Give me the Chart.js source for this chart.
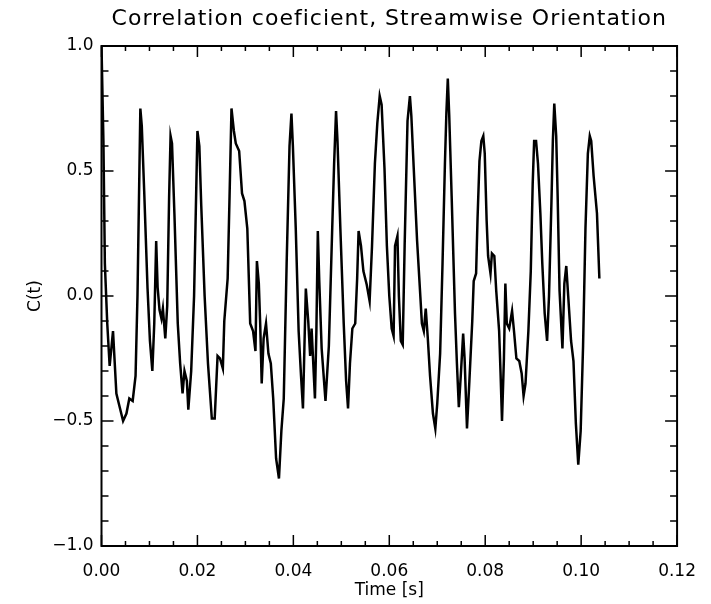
<!DOCTYPE html>
<html>
<head>
<meta charset="utf-8">
<script src="https://cdn.jsdelivr.net/npm/chart.js@4/dist/chart.umd.min.js"></script>
<style>
  html, body { margin: 0; padding: 0; background: #fff; }
  #wrap { width: 711px; height: 604px; }
</style>
</head>
<body>
<div id="wrap"><canvas id="corrChart" width="711" height="604"></canvas></div>
<script>
// Dados
const chartTitle = 'Correlation coeficient, Streamwise Orientation';
const xLabel = 'Time [s]';
const yLabel = 'C(t)';

const timeValues = [
    0.0000, 0.0004, 0.0007, 0.0012, 0.0017, 0.0024, 0.0031, 0.0038, 0.0045, 0.0052,
    0.0058, 0.0065, 0.0071, 0.0075, 0.0081, 0.0084, 0.0089, 0.0096, 0.0101, 0.0106,
    0.0110, 0.0114, 0.0117, 0.0121, 0.0125, 0.0128, 0.0133, 0.0137, 0.0141, 0.0144,
    0.0147, 0.0152, 0.0159, 0.0164, 0.0169, 0.0173, 0.0178, 0.0181, 0.0187, 0.0193,
    0.0200, 0.0204, 0.0208, 0.0215, 0.0222, 0.0230, 0.0236, 0.0242, 0.0247, 0.0253,
    0.0256, 0.0263, 0.0267, 0.0271, 0.0276, 0.0280, 0.0287, 0.0293, 0.0298, 0.0304,
    0.0310, 0.0316, 0.0321, 0.0324, 0.0328, 0.0331, 0.0334, 0.0338, 0.0343, 0.0348,
    0.0353, 0.0358, 0.0364, 0.0370, 0.0375, 0.0380, 0.0386, 0.0392, 0.0396, 0.0399,
    0.0405, 0.0411, 0.0416, 0.0420, 0.0423, 0.0426, 0.0431, 0.0435, 0.0438, 0.0441,
    0.0445, 0.0448, 0.0451, 0.0454, 0.0459, 0.0467, 0.0474, 0.0481, 0.0485, 0.0489,
    0.0492, 0.0498, 0.0505, 0.0510, 0.0514, 0.0518, 0.0523, 0.0529, 0.0533, 0.0536,
    0.0541, 0.0546, 0.0553, 0.0559, 0.0564, 0.0570, 0.0575, 0.0580, 0.0584, 0.0590,
    0.0595, 0.0600, 0.0605, 0.0609, 0.0612, 0.0617, 0.0620, 0.0624, 0.0628, 0.0632,
    0.0638, 0.0643, 0.0646, 0.0651, 0.0658, 0.0665, 0.0668, 0.0672, 0.0676, 0.0680,
    0.0685, 0.0691, 0.0696, 0.0700, 0.0706, 0.0711, 0.0716, 0.0719, 0.0722, 0.0725,
    0.0730, 0.0737, 0.0741, 0.0745, 0.0749, 0.0754, 0.0757, 0.0762, 0.0767, 0.0773,
    0.0776, 0.0781, 0.0784, 0.0788, 0.0792, 0.0796, 0.0799, 0.0803, 0.0806, 0.0811,
    0.0814, 0.0819, 0.0823, 0.0829, 0.0832, 0.0835, 0.0839, 0.0842, 0.0845, 0.0850,
    0.0856, 0.0860, 0.0865, 0.0871, 0.0876, 0.0880, 0.0884, 0.0890, 0.0895, 0.0899,
    0.0902, 0.0906, 0.0910, 0.0915, 0.0919, 0.0924, 0.0929, 0.0933, 0.0938, 0.0941,
    0.0944, 0.0948, 0.0951, 0.0955, 0.0961, 0.0965, 0.0969, 0.0973, 0.0979, 0.0984,
    0.0989, 0.0994, 0.0999, 0.1004, 0.1009, 0.1014, 0.1018, 0.1021, 0.1026, 0.1033,
    0.1038
];

const corrValues = [
    1.00, 0.62, 0.13, -0.11, -0.28, -0.14, -0.39, -0.445, -0.50, -0.47,
    -0.41, -0.42, -0.32, 0.00, 0.75, 0.68, 0.42, 0.03, -0.18, -0.30,
    -0.11, 0.22, 0.035, -0.056, -0.09, -0.05, -0.17, -0.04, 0.40, 0.64,
    0.61, 0.33, -0.11, -0.27, -0.39, -0.30, -0.34, -0.455, -0.30, 0.00,
    0.66, 0.60, 0.36, 0.00, -0.27, -0.49, -0.49, -0.24, -0.25, -0.29,
    -0.10, 0.07, 0.40, 0.75, 0.66, 0.61, 0.58, 0.41, 0.38, 0.27,
    -0.11, -0.14, -0.22, 0.14, 0.05, -0.12, -0.35, -0.17, -0.11, -0.23,
    -0.27, -0.41, -0.65, -0.73, -0.54, -0.41, 0.13, 0.60, 0.73, 0.60,
    0.27, -0.14, -0.32, -0.45, -0.21, 0.03, -0.10, -0.24, -0.13, -0.25,
    -0.41, -0.14, 0.26, 0.06, -0.21, -0.42, -0.20, 0.27, 0.53, 0.74,
    0.62, 0.27, -0.11, -0.34, -0.45, -0.27, -0.13, -0.11, 0.07, 0.26,
    0.20, 0.10, 0.045, -0.02, 0.20, 0.53, 0.69, 0.80, 0.765, 0.51,
    0.20, 0.00, -0.13, -0.16, 0.20, 0.24, 0.00, -0.18, -0.195, 0.20,
    0.70, 0.80, 0.72, 0.51, 0.22, -0.01, -0.11, -0.14, -0.05, -0.16,
    -0.32, -0.47, -0.53, -0.43, -0.23, 0.13, 0.53, 0.73, 0.87, 0.72,
    0.40, -0.07, -0.27, -0.445, -0.32, -0.15, -0.25, -0.53, -0.34, -0.10,
    0.06, 0.09, 0.31, 0.54, 0.62, 0.64, 0.57, 0.30, 0.16, 0.09,
    0.17, 0.16, 0.02, -0.14, -0.31, -0.50, -0.25, 0.05, -0.11, -0.13,
    -0.06, -0.14, -0.25, -0.26, -0.31, -0.40, -0.35, -0.14, 0.10, 0.45,
    0.62, 0.62, 0.53, 0.33, 0.13, -0.07, -0.18, 0.00, 0.37, 0.62,
    0.77, 0.64, 0.40, 0.02, -0.21, 0.05, 0.12, 0.00, -0.18, -0.26,
    -0.51, -0.675, -0.54, -0.20, 0.27, 0.57, 0.64, 0.62, 0.48, 0.33,
    0.07
];

const xTickValues = [0, 0.02, 0.04, 0.06, 0.08, 0.10, 0.12];
const yTickValues = [-1.0, -0.5, 0.0, 0.5, 1.0];

document.addEventListener("DOMContentLoaded", function () {
    const fontFamily = '"DejaVu Sans", "Liberation Sans", sans-serif';

    // Moldura com marcas internas nos quatro lados, e o título
    const frameTicks = {
        id: 'frameTicks',
        afterDatasetsDraw(chart) {
            const { ctx, chartArea: a, scales: { x, y } } = chart;
            ctx.save();
            ctx.strokeStyle = '#000';
            ctx.lineWidth = 2;
            ctx.strokeRect(a.left, a.top, a.right - a.left, a.bottom - a.top);
            ctx.lineWidth = 1.5;
            ctx.beginPath();
            for (let i = 0; i <= 24; i++) {
                const px = x.getPixelForValue(i * 0.005);
                const len = i % 4 === 0 ? 11 : 5;
                ctx.moveTo(px, a.bottom);
                ctx.lineTo(px, a.bottom - len);
                ctx.moveTo(px, a.top);
                ctx.lineTo(px, a.top + len);
            }
            for (let j = 0; j <= 20; j++) {
                const py = y.getPixelForValue(-1 + j * 0.1);
                const len = j % 5 === 0 ? 12 : 7;
                ctx.moveTo(a.left, py);
                ctx.lineTo(a.left + len, py);
                ctx.moveTo(a.right, py);
                ctx.lineTo(a.right - len, py);
            }
            ctx.stroke();

            // título com espaçamento entre letras
            ctx.fillStyle = '#000';
            ctx.font = '22px ' + fontFamily;
            ctx.letterSpacing = '1px';
            ctx.textAlign = 'center';
            ctx.textBaseline = 'middle';
            ctx.fillText(chartTitle, (a.left + a.right) / 2, 19);
            ctx.restore();
        }
    };

    const ctx = document.getElementById('corrChart').getContext('2d');
    new Chart(ctx, {
        type: 'line',
        data: {
            datasets: [{
                data: timeValues.map((t, i) => ({ x: t, y: corrValues[i] })),
                borderColor: '#000',
                borderWidth: 2.5,
                pointRadius: 0,
                tension: 0,
                fill: false,
            }],
        },
        options: {
            responsive: false,
            animation: false,
            devicePixelRatio: 1,
            layout: { padding: { left: 0, right: 23, top: 46, bottom: 0 } },
            plugins: {
                legend: { display: false },
                tooltip: { enabled: false },
                title: { display: false },
            },
            scales: {
                x: {
                    type: 'linear',
                    min: 0,
                    max: 0.12,
                    afterBuildTicks: (scale) => { scale.ticks = xTickValues.map(v => ({ value: v })); },
                    afterFit: (scale) => { scale.height = 58; },
                    grid: { display: false, drawTicks: false },
                    border: { display: false },
                    ticks: {
                        color: '#000',
                        padding: 15,
                        maxRotation: 0,
                        font: { family: fontFamily, size: 17 },
                        callback: (v) => Number(v).toFixed(2),
                    },
                    title: {
                        display: true,
                        text: xLabel,
                        color: '#000',
                        font: { family: fontFamily, size: 17 },
                        padding: { top: 0, bottom: 3 },
                    },
                },
                y: {
                    min: -1,
                    max: 1,
                    afterBuildTicks: (scale) => { scale.ticks = yTickValues.map(v => ({ value: v })); },
                    afterFit: (scale) => { scale.width = 101.5; },
                    grid: { display: false, drawTicks: false },
                    border: { display: false },
                    ticks: {
                        color: '#000',
                        padding: 8,
                        font: { family: fontFamily, size: 17 },
                        callback: (v) => Number(v).toFixed(1).replace('-', '\u2212'),
                    },
                    title: {
                        display: true,
                        text: yLabel,
                        color: '#000',
                        font: { family: fontFamily, size: 17 },
                        padding: { top: 25, bottom: 0 },
                    },
                },
            },
        },
        plugins: [frameTicks],
    });
});
</script>
</body>
</html>
